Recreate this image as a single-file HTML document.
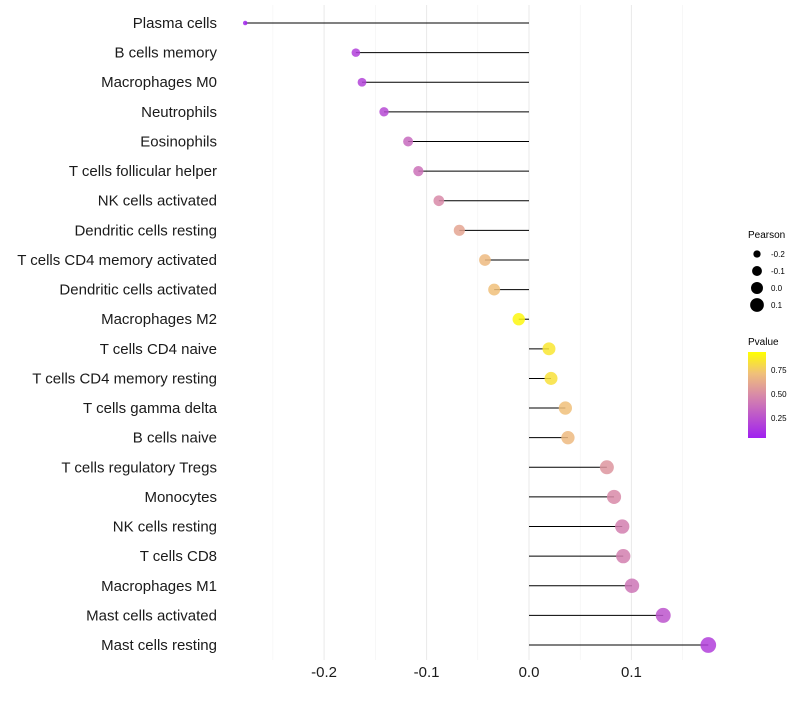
<!DOCTYPE html>
<html><head><meta charset="utf-8"><style>
body{margin:0;background:#fff;font-family:"Liberation Sans",sans-serif}
</style></head><body>
<svg id="chart" width="800" height="700" xmlns="http://www.w3.org/2000/svg" font-family="Liberation Sans, sans-serif">
<defs><linearGradient id="pg" x1="0" y1="1" x2="0" y2="0">
<stop offset="0" stop-color="#a020f0"/><stop offset="0.5" stop-color="#d88aa8"/><stop offset="0.75" stop-color="#f0c07a"/><stop offset="1" stop-color="#ffff00"/></linearGradient></defs>
<g id="grid"></g>
<g id="marks"></g>
<g id="ylabels"></g>
<g id="xlabels"></g>
<g id="legS">
<text x="748" y="238" font-size="10">Pearson</text>
</g>
<g>
<text x="748" y="345" font-size="10">Pvalue</text>
<rect x="748" y="352" width="18" height="86" fill="url(#pg)"/>
<text x="771" y="373" font-size="8">0.75</text>
<text x="771" y="397" font-size="8">0.50</text>
<text x="771" y="421" font-size="8">0.25</text>
</g>
</svg>
<script>
const categories=["Plasma cells","B cells memory","Macrophages M0","Neutrophils","Eosinophils","T cells follicular helper","NK cells activated","Dendritic cells resting","T cells CD4 memory activated","Dendritic cells activated","Macrophages M2","T cells CD4 naive","T cells CD4 memory resting","T cells gamma delta","B cells naive","T cells regulatory  Tregs ","Monocytes","NK cells resting","T cells CD8","Macrophages M1","Mast cells activated","Mast cells resting"];
const pearson=[-0.277,-0.169,-0.163,-0.1415,-0.118,-0.108,-0.088,-0.068,-0.043,-0.034,-0.010,0.0195,0.0215,0.0355,0.038,0.076,0.083,0.091,0.092,0.1005,0.131,0.175];
const pvalue=[0.02,0.15,0.17,0.2,0.35,0.38,0.5,0.62,0.72,0.75,0.97,0.9,0.88,0.75,0.72,0.55,0.5,0.45,0.45,0.4,0.25,0.15];
const xTicks=[-0.2,-0.1,0.0,0.1];
const xTickLabels=["-0.2","-0.1","0.0","0.1"];
const sizeLegend=[-0.2,-0.1,0.0,0.1];
const NS="http://www.w3.org/2000/svg";
const xs=v=>529+v*1024.5;
const ys=i=>23+i*29.62;
const rs=v=>1.12*Math.sqrt(Math.max(1,31.6+99.6*v));
function lerp(a,b,t){return a+(b-a)*t}
const stops=[[0,[160,32,240]],[0.5,[216,138,168]],[0.75,[240,192,122]],[1,[255,255,0]]];
function col(p){let i=0;while(i<stops.length-2&&p>stops[i+1][0])i++;
 const t=(p-stops[i][0])/(stops[i+1][0]-stops[i][0]);
 const c=stops[i][1].map((v,k)=>Math.round(lerp(v,stops[i+1][1][k],t)));return `rgb(${c})`;}
function mk(tag,attrs,parent){const e=document.createElementNS(NS,tag);for(const k in attrs)e.setAttribute(k,attrs[k]);document.getElementById(parent).appendChild(e);return e;}
for(let v=-0.25;v<=0.151;v+=0.05){const minor=Math.abs(Math.round(v*20))%2;const e=mk("line",{x1:xs(v),x2:xs(v),y1:5,y2:660,stroke:minor?"#f2f2f2":"#ebebeb","stroke-width":minor?0.6:1.1},"grid");

}
categories.forEach((c,i)=>{
 const y=ys(i);
 const l=mk("line",{x1:xs(0),x2:xs(pearson[i]),y1:y,y2:y,stroke:"#000","stroke-width":1},"marks");
 
 
 const d=mk("circle",{cx:xs(pearson[i]),cy:y,r:rs(pearson[i]),fill:col(pvalue[i]),"fill-opacity":0.85},"marks");
 
 
 const t=mk("text",{x:217,y:y+5,"text-anchor":"end","font-size":15,fill:"#1a1a1a"},"ylabels");t.textContent=c;
 
 
});
xTicks.forEach((v,i)=>{const t=mk("text",{x:xs(v),y:677,"text-anchor":"middle","font-size":15,fill:"#1a1a1a"},"xlabels");t.textContent=xTickLabels[i];
 
 });
sizeLegend.forEach((v,i)=>{const y=254+i*17;
 const c=mk("circle",{cx:757,cy:y,r:rs(v)*0.95,fill:"#000"},"legS");
 
 
 const t=mk("text",{x:771,y:y+3,"font-size":8},"legS");t.textContent=v.toFixed(1);
 
 });
</script>
</body></html>
